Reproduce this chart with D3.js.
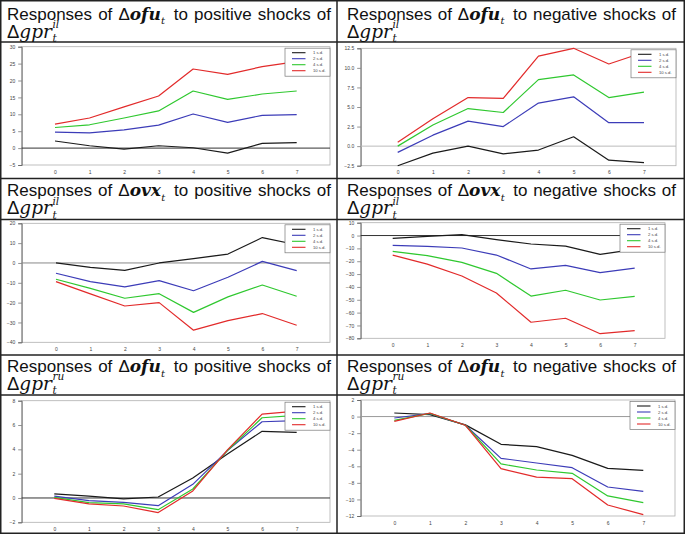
<!DOCTYPE html>
<html><head><meta charset="utf-8">
<script src="https://cdn.jsdelivr.net/npm/d3@7"></script>
<style>body{margin:0;background:#fff} svg{display:block}</style>
</head><body>
<svg id="c" width="685" height="535"></svg>
<script>
const horizons = [0,1,2,3,4,5,6,7];
const shockSizes = ["1 s.d.","2 s.d.","4 s.d.","10 s.d."];
const seriesColors = ["#1a1a1a","#3c3cb8","#2fc82f","#e22a2a"];

// Responses of Δofu to positive shocks of Δgpr^il
const ofuPosIl_1sd  = [2.1, 0.7, -0.3, 0.7, 0.1, -1.5, 1.4, 1.6];
const ofuPosIl_2sd  = [4.7, 4.5, 5.4, 6.8, 10.1, 7.6, 9.7, 9.9];
const ofuPosIl_4sd  = [6.1, 6.9, 8.9, 11.0, 16.9, 14.4, 16.0, 16.9];
const ofuPosIl_10sd = [7.1, 8.9, 12.2, 15.4, 23.4, 21.8, 24.1, 25.6];
const ofuPosIl_ticks = [-5, 0, 5, 10, 15, 20, 25, 30];

// Responses of Δofu to negative shocks of Δgpr^il
const ofuNegIl_1sd  = [-2.5, -0.9, 0.0, -1.0, -0.5, 1.2, -1.8, -2.1];
const ofuNegIl_2sd  = [-0.8, 1.4, 3.2, 2.5, 5.5, 6.3, 3.0, 3.0];
const ofuNegIl_4sd  = [0.0, 2.7, 4.8, 4.3, 8.5, 9.1, 6.2, 6.9];
const ofuNegIl_10sd = [0.5, 3.5, 6.2, 6.1, 11.5, 12.5, 10.5, 12.0];
const ofuNegIl_ticks = [-2.5, 0, 2.5, 5, 7.5, 10, 12.5];

// Responses of Δovx to positive shocks of Δgpr^il
const ovxPosIl_1sd  = [0.0, -2.2, -3.7, 0.0, 2.2, 4.5, 12.8, 9.2];
const ovxPosIl_2sd  = [-5.2, -9.4, -12.1, -8.9, -14.0, -7.2, 0.8, -3.9];
const ovxPosIl_4sd  = [-8.2, -12.8, -17.8, -15.5, -24.9, -17.1, -11.1, -16.8];
const ovxPosIl_10sd = [-9.4, -15.6, -21.7, -20.0, -33.9, -29.1, -25.5, -31.4];
const ovxPosIl_ticks = [-40, -30, -20, -10, 0, 10, 20];

// Responses of Δovx to negative shocks of Δgpr^il
const ovxNegIl_1sd  = [-2.2, -0.6, 0.7, -3.2, -6.6, -8.2, -14.6, -10.8];
const ovxNegIl_2sd  = [-7.6, -8.4, -9.7, -15.2, -26.0, -23.2, -28.9, -25.3];
const ovxNegIl_4sd  = [-12.3, -15.7, -20.9, -29.4, -47.1, -42.6, -50.2, -47.3];
const ovxNegIl_10sd = [-15.2, -22.2, -31.5, -44.7, -67.5, -64.4, -76.4, -74.0];
const ovxNegIl_ticks = [-80, -70, -60, -50, -40, -30, -20, -10, 0, 10];

// Responses of Δofu to positive shocks of Δgpr^ru
const ofuPosRu_1sd  = [0.33, 0.16, -0.08, 0.08, 1.64, 3.62, 5.48, 5.40];
const ofuPosRu_2sd  = [0.16, -0.22, -0.36, -0.63, 1.12, 3.9, 6.27, 6.36];
const ofuPosRu_4sd  = [0.05, -0.38, -0.49, -0.96, 0.74, 3.9, 6.6, 6.8];
const ofuPosRu_10sd = [-0.03, -0.49, -0.66, -1.2, 0.58, 3.95, 6.9, 7.15];
const ofuPosRu_ticks = [-2, 0, 2, 4, 6, 8];

// Responses of Δofu to negative shocks of Δgpr^ru
const ofuNegRu_1sd  = [0.43, 0.23, -1.0, -3.35, -3.63, -4.68, -6.25, -6.49];
const ofuNegRu_2sd  = [-0.17, 0.35, -1.05, -5.04, -5.6, -6.17, -8.5, -9.02];
const ofuNegRu_4sd  = [-0.45, 0.39, -1.05, -5.72, -6.45, -6.85, -9.58, -10.39];
const ofuNegRu_10sd = [-0.57, 0.43, -1.05, -6.29, -7.3, -7.5, -10.67, -11.84];
const ofuNegRu_ticks = [-12, -10, -8, -6, -4, -2, 0, 2];

const panels = [
  {col:0,row:0,v:"ofu",sign:"positive",src:"il",series:[ofuPosIl_1sd,ofuPosIl_2sd,ofuPosIl_4sd,ofuPosIl_10sd],ticks:ofuPosIl_ticks,fmt:d3.format("d"),
   box:{l:21.7,r:330,t:46.7,b:165},x0:55,x7:296.7,zero:"#333"},
  {col:1,row:0,v:"ofu",sign:"negative",src:"il",series:[ofuNegIl_1sd,ofuNegIl_2sd,ofuNegIl_4sd,ofuNegIl_10sd],ticks:ofuNegIl_ticks,fmt:d3.format(".1f"),
   box:{l:360.7,r:676,t:48.3,b:165.7},x0:397.7,x7:644,zero:"#bbb"},
  {col:0,row:1,v:"ovx",sign:"positive",src:"il",series:[ovxPosIl_1sd,ovxPosIl_2sd,ovxPosIl_4sd,ovxPosIl_10sd],ticks:ovxPosIl_ticks,fmt:d3.format("d"),
   box:{l:21.7,r:330,t:223.3,b:342.3},x0:56,x7:296.7,zero:"#888"},
  {col:1,row:1,v:"ovx",sign:"negative",src:"il",series:[ovxNegIl_1sd,ovxNegIl_2sd,ovxNegIl_4sd,ovxNegIl_10sd],ticks:ovxNegIl_ticks,fmt:d3.format("d"),
   box:{l:360.7,r:665,t:222.7,b:338.3},x0:392.7,x7:634.7,zero:"#333"},
  {col:0,row:2,v:"ofu",sign:"positive",src:"ru",series:[ofuPosRu_1sd,ofuPosRu_2sd,ofuPosRu_4sd,ofuPosRu_10sd],ticks:ofuPosRu_ticks,fmt:d3.format("d"),
   box:{l:21.7,r:330,t:400.7,b:522.3},x0:54.3,x7:296.7,zero:"#333"},
  {col:1,row:2,v:"ofu",sign:"negative",src:"ru",series:[ofuNegRu_1sd,ofuNegRu_2sd,ofuNegRu_4sd,ofuNegRu_10sd],ticks:ofuNegRu_ticks,fmt:d3.format("d"),
   box:{l:360.7,r:675,t:400,b:516},x0:394.3,x7:643.3,zero:"#999"}
];

const svg = d3.select("#c");
const sansFont = "'Liberation Sans', Arial, sans-serif";
const mathFont = "'DejaVu Serif', 'Liberation Serif', serif";

// Table grid
const colX = [[7, 331], [347, 676]];
const rowTitle = [[19.5, 37.5], [196, 214], [372, 389.5]];
const hLines = [42, 178.5, 219.5, 355, 395];
const grid = svg.append("g").attr("stroke", "#222").attr("fill", "none");
grid.append("rect").attr("x", 0.75).attr("y", 0.75).attr("width", 683.5).attr("height", 532.5).attr("stroke-width", 1.5);
hLines.forEach(y => grid.append("line").attr("x1", 0).attr("x2", 685).attr("y1", y).attr("y2", y).attr("stroke-width", 1.5));
grid.append("line").attr("x1", 337).attr("x2", 337).attr("y1", 0).attr("y2", 533).attr("stroke-width", 1.5);

function titleWords(p) {
  return [
    [{t:"Responses"}],
    [{t:"of"}],
    [{t:"Δ"}, {t:p.v, math:true, bold:true}],
    [{t:"to"}],
    [{t:p.sign}],
    [{t:"shocks"}],
    [{t:"of"}]
  ];
}

function drawTitle(p) {
  const [xl, xr] = colX[p.col];
  const [b1, b2] = rowTitle[p.row];
  const words = titleWords(p);
  const subW = 7;
  const nodes = words.map(parts => {
    const t = svg.append("text").attr("y", b1).attr("font-family", sansFont).attr("font-size", 17).attr("fill", "#111");
    parts.forEach(pt => {
      const ts = t.append("tspan").text(pt.t);
      if (pt.math) ts.attr("font-family", mathFont).attr("font-style", "italic");
      if (pt.bold) ts.attr("font-weight", "bold");
    });
    return t;
  });
  const widths = nodes.map((n, i) => n.node().getComputedTextLength() + (i === 2 ? subW : 0));
  const total = d3.sum(widths);
  const gap = (xr - xl - total) / (nodes.length - 1);
  let x = xl;
  nodes.forEach((n, i) => {
    n.attr("x", x);
    if (i === 2) {
      const w = n.node().getComputedTextLength();
      svg.append("text").attr("x", x + w + 0.3).attr("y", b1 + 4.5).attr("font-family", mathFont)
        .attr("font-style", "italic").attr("font-size", 10).attr("fill", "#111").text("t");
    }
    x += widths[i] + gap;
  });

  // second line: Δgpr_t^src
  const l2 = svg.append("text").attr("x", xl).attr("y", b2).attr("font-size", 18.5).attr("fill", "#111");
  l2.append("tspan").attr("font-family", sansFont).text("Δ");
  l2.append("tspan").attr("font-family", mathFont).attr("font-style", "italic").text("gpr");
  const w = l2.node().getComputedTextLength();
  svg.append("text").attr("x", xl + w + 0.5).attr("y", b2 + 4.5).attr("font-family", mathFont)
    .attr("font-style", "italic").attr("font-size", 10.5).attr("fill", "#111").text("t");
  svg.append("text").attr("x", xl + w + 0.5).attr("y", b2 - 9.5).attr("font-family", mathFont)
    .attr("font-style", "italic").attr("font-size", 10.5).attr("fill", "#111").text(p.src);
}

function drawPanel(p) {
  const {l, r, t, b} = p.box;
  const x = d3.scaleLinear().domain([0, 7]).range([p.x0, p.x7]);
  const y = d3.scaleLinear().domain(d3.extent(p.ticks)).range([b, t]);
  const g = svg.append("g");
  g.append("rect").attr("x", l).attr("y", t).attr("width", r - l).attr("height", b - t)
    .attr("fill", "none").attr("stroke", "#b0b0b0").attr("stroke-width", 0.8);
  // y axis
  const ya = g.append("g").attr("transform", `translate(${l},0)`)
    .call(d3.axisLeft(y).tickValues(p.ticks).tickFormat(p.fmt).tickSize(3.5).tickPadding(3));
  ya.select(".domain").attr("stroke", "#666").attr("stroke-width", 0.9);
  ya.selectAll(".tick line").attr("stroke", "#666").attr("stroke-width", 0.7);
  ya.selectAll("text").attr("font-size", 5).attr("font-family", sansFont).attr("fill", "#444");
  // x axis labels
  const xa = g.append("g").attr("transform", `translate(0,${b})`)
    .call(d3.axisBottom(x).tickValues(horizons).tickFormat(d3.format("d")).tickSize(0).tickPadding(5));
  xa.select(".domain").remove();
  xa.selectAll("text").attr("font-size", 5).attr("font-family", sansFont).attr("fill", "#444");
  // zero line
  g.append("line").attr("x1", l).attr("x2", r).attr("y1", y(0)).attr("y2", y(0))
    .attr("stroke", p.zero).attr("stroke-width", 1);
  // series
  const line = d3.line().x((d, i) => x(horizons[i])).y(d => y(d));
  p.series.forEach((s, i) => {
    g.append("path").attr("d", line(s)).attr("fill", "none")
      .attr("stroke", seriesColors[i]).attr("stroke-width", 1.2).attr("stroke-linejoin", "round");
  });
  // legend
  const lw = 45, lh = 28;
  const lg = g.append("g").attr("transform", `translate(${r - lw},${t + 1.5})`);
  lg.append("rect").attr("width", lw).attr("height", lh).attr("fill", "#fff").attr("stroke", "#777").attr("stroke-width", 0.7);
  shockSizes.forEach((name, i) => {
    const yy = 4.5 + i * 6;
    lg.append("line").attr("x1", 7).attr("x2", 20.5).attr("y1", yy).attr("y2", yy)
      .attr("stroke", seriesColors[i]).attr("stroke-width", 1.1);
    lg.append("text").attr("x", 28).attr("y", yy + 1.5).attr("font-size", 4.2)
      .attr("font-family", sansFont).attr("fill", "#444").text(name);
  });
}

panels.forEach(p => { drawTitle(p); drawPanel(p); });
</script>
</body></html>
